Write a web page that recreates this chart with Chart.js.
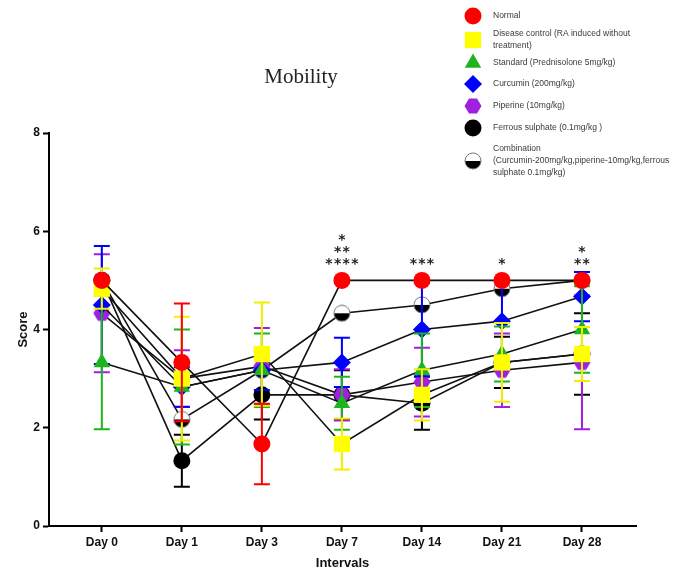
<!DOCTYPE html>
<html>
<head>
<meta charset="utf-8">
<script src="https://cdn.jsdelivr.net/npm/chart.js@4.4.1/dist/chart.umd.min.js"></script>
<style>
    body { margin: 0; background: #fff; }
    canvas { display: block; }
</style>
</head>
<body>
<canvas id="chart_mobility" width="690" height="576"></canvas>
<script>
// data (mean score and SD per interval)
const days = ['Day 0', 'Day 1', 'Day 3', 'Day 7', 'Day 14', 'Day 21', 'Day 28']
const yTicks = [0, 2, 4, 6, 8]

const normal = [5, 3.33, 1.67, 5, 5, 5, 5]
const normalSd = [0, 1.2, 0.82, 0, 0, 0, 0]
const disease = [4.83, 3, 3.5, 1.67, 2.67, 3.33, 3.5]
const diseaseSd = [0.41, 1.26, 1.05, 0.52, 0.52, 0.8, 0.55]
const standard = [3.33, 2.83, 3.17, 2.5, 3.17, 3.5, 4]
const standardSd = [1.36, 1.17, 0.75, 0.54, 0.75, 0.56, 0.88]
const curcumin = [4.5, 2.83, 3.17, 3.33, 4, 4.17, 4.67]
const curcuminSd = [1.2, 0.4, 0.4, 0.5, 0.95, 0.8, 0.5]
const piperine = [4.33, 3, 3.25, 2.67, 2.93, 3.17, 3.33]
const piperineSd = [1.2, 0.58, 0.78, 0.52, 0.7, 0.75, 1.36]
const ferrous = [5, 1.33, 2.67, 2.67, 2.5, 3.33, 3.5]
const ferrousSd = [0, 0.53, 0.5, 0.5, 0.54, 0.52, 0.83]
const combination = [5, 2.17, 3.17, 4.33, 4.5, 4.83, 5]
const combinationSd = [0, 0, 0, 0, 0, 0, 0]

// significance marks above the Normal group
const starMarks = ['', '', '', '*\n**\n****', '***', '*', '*\n**']

const legendNames = [
    ['Normal'],
    ['Disease control (RA induced without', 'treatment)'],
    ['Standard (Prednisolone 5mg/kg)'],
    ['Curcumin (200mg/kg)'],
    ['Piperine (10mg/kg)'],
    ['Ferrous sulphate (0.1mg/kg )'],
    ['Combination', '(Curcumin-200mg/kg,piperine-10mg/kg,ferrous', 'sulphate 0.1mg/kg)']
]

// custom marker images
function hexagonMarker(color) {
    let c = document.createElement('canvas')
    c.width = 18
    c.height = 18
    let g = c.getContext('2d')
    g.fillStyle = color
    g.beginPath()
    g.moveTo(0.5, 9)
    g.lineTo(5, 1.5)
    g.lineTo(13, 1.5)
    g.lineTo(17.5, 9)
    g.lineTo(13, 16.5)
    g.lineTo(5, 16.5)
    g.closePath()
    g.fill()
    return c
}

function halfMarker() {
    let c = document.createElement('canvas')
    c.width = 18
    c.height = 18
    let g = c.getContext('2d')
    g.fillStyle = '#fff'
    g.beginPath()
    g.arc(9, 9, 8, Math.PI, 0)
    g.fill()
    g.fillStyle = '#000'
    g.beginPath()
    g.arc(9, 9, 8, 0, Math.PI)
    g.fill()
    g.strokeStyle = '#777'
    g.lineWidth = 1
    g.beginPath()
    g.arc(9, 9, 8, 0, Math.PI * 2)
    g.stroke()
    return c
}

const groups = [
    { values: normal, sd: normalSd, color: '#ff0000', style: 'circle', radius: 8.5 },
    { values: disease, sd: diseaseSd, color: '#ffff00', style: 'rect', radius: 11.5 },
    { values: standard, sd: standardSd, color: '#1db51d', style: 'triangle', radius: 9.5 },
    { values: curcumin, sd: curcuminSd, color: '#0000ff', style: 'rectRot', radius: 9 },
    { values: piperine, sd: piperineSd, color: '#a020e0', style: hexagonMarker('#a020e0'), radius: 9 },
    { values: ferrous, sd: ferrousSd, color: '#000000', style: 'circle', radius: 8.5 },
    { values: combination, sd: combinationSd, color: '#000000', style: halfMarker(), radius: 9 }
]

const datasets = groups.map((g, k) => ({
    label: legendNames[k].join(' '),
    data: g.values.map((v, i) => ({ x: i, y: v })),
    sd: g.sd,
    barColor: g.color === '#ffff00' ? '#f2ee00' : g.color,
    borderColor: '#111',
    borderWidth: 1.6,
    tension: 0,
    fill: false,
    pointStyle: g.style,
    pointRadius: g.radius,
    pointBackgroundColor: g.color,
    pointBorderColor: g.color,
    pointBorderWidth: 0
}))

// error bars, drawn just before each group's line and markers
const errorBars = {
    id: 'errorBars',
    beforeDatasetDraw(chart, args) {
        let ds = chart.data.datasets[args.index]
        let xs = chart.scales.x
        let ys = chart.scales.y
        let ctx = chart.ctx
        ctx.save()
        ctx.strokeStyle = ds.barColor
        ctx.lineWidth = 2
        ds.data.forEach((p, i) => {
            let s = ds.sd[i]
            if (!s) return
            let x = xs.getPixelForValue(p.x)
            let top = ys.getPixelForValue(p.y + s)
            let bot = ys.getPixelForValue(p.y - s)
            ctx.beginPath()
            ctx.moveTo(x, top)
            ctx.lineTo(x, bot)
            ctx.moveTo(x - 8, top)
            ctx.lineTo(x + 8, top)
            ctx.moveTo(x - 8, bot)
            ctx.lineTo(x + 8, bot)
            ctx.stroke()
        })
        ctx.restore()
    }
}

// stars, title and legend
const extras = {
    id: 'extras',
    afterDraw(chart) {
        let ctx = chart.ctx
        let xs = chart.scales.x
        let ys = chart.scales.y
        ctx.save()

        // stars
        ctx.fillStyle = '#222'
        ctx.font = 'bold 14px "DejaVu Sans", sans-serif'
        ctx.textAlign = 'center'
        ctx.textBaseline = 'middle'
        starMarks.forEach((m, i) => {
            if (!m) return
            let rows = m.split('\n')
            let x = xs.getPixelForValue(i)
            let y0 = ys.getPixelForValue(normal[i]) - 19
            rows.reverse().forEach((r, k) => {
                let y = y0 - k * 12
                let n = r.length
                for (let j = 0; j < n; j++) {
                    ctx.fillText('*', x + (j - (n - 1) / 2) * 8.6, y + 3)
                }
            })
        })

        // title
        ctx.fillStyle = '#222'
        ctx.font = '21px "Liberation Serif", "Times New Roman", serif'
        ctx.textAlign = 'center'
        ctx.textBaseline = 'middle'
        ctx.fillText('Mobility', 301, 77)

        // legend
        let rowY = [16, 40, 63, 84, 106, 128, 161]
        ctx.font = '8.5px "Liberation Sans", Arial, sans-serif'
        ctx.textAlign = 'left'
        groups.forEach((g, k) => {
            let y = rowY[k]
            ctx.fillStyle = g.color
            Chart.helpers.drawPoint(ctx, {
                pointStyle: g.style,
                radius: g.radius,
                rotation: 0,
                borderWidth: 0
            }, 473, y)
            let lines = legendNames[k]
            ctx.fillStyle = '#3a3a3a'
            let start = y - (lines.length - 1) * 12 / 2
            lines.forEach((t, j) => {
                ctx.fillText(t, 493, start + j * 12)
            })
        })
        ctx.restore()
    }
}

const ctx = document.getElementById('chart_mobility').getContext('2d')
const chartMobility = new Chart(ctx, {
    type: 'line',
    data: { datasets: datasets },
    options: {
        responsive: false,
        animation: false,
        layout: { padding: { left: 0, top: 133, right: 54, bottom: 0 } },
        plugins: {
            legend: { display: false },
            title: { display: false },
            tooltip: { enabled: false }
        },
        scales: {
            x: {
                type: 'linear',
                min: -0.66,
                max: 6.675,
                afterBuildTicks: scale => {
                    scale.ticks = days.map((d, i) => ({ value: i }))
                },
                afterFit: scale => { scale.height = 50 },
                ticks: {
                    callback: v => days[v],
                    color: '#111',
                    font: { family: '"Liberation Sans", Arial, sans-serif', size: 12, weight: 'bold' },
                    padding: 3,
                    maxRotation: 0
                },
                grid: { drawOnChartArea: false, tickLength: 6, tickWidth: 2, tickColor: '#000' },
                border: { color: '#000', width: 2 },
                title: {
                    display: true,
                    text: 'Intervals',
                    color: '#111',
                    font: { family: '"Liberation Sans", Arial, sans-serif', size: 13, weight: 'bold' },
                    padding: { top: 0, bottom: 5 }
                }
            },
            y: {
                min: 0,
                max: 8,
                afterBuildTicks: scale => {
                    scale.ticks = yTicks.map(v => ({ value: v }))
                },
                afterFit: scale => { scale.width = 49 },
                ticks: {
                    color: '#111',
                    font: { family: '"Liberation Sans", Arial, sans-serif', size: 12, weight: 'bold' },
                    padding: 3
                },
                grid: { drawOnChartArea: false, tickLength: 6, tickWidth: 2, tickColor: '#000' },
                border: { color: '#000', width: 2 },
                title: {
                    display: true,
                    text: 'Score',
                    color: '#111',
                    font: { family: '"Liberation Sans", Arial, sans-serif', size: 13, weight: 'bold' },
                    padding: { top: 16, bottom: 0 }
                }
            }
        }
    },
    plugins: [errorBars, extras]
})
</script>
</body>
</html>
